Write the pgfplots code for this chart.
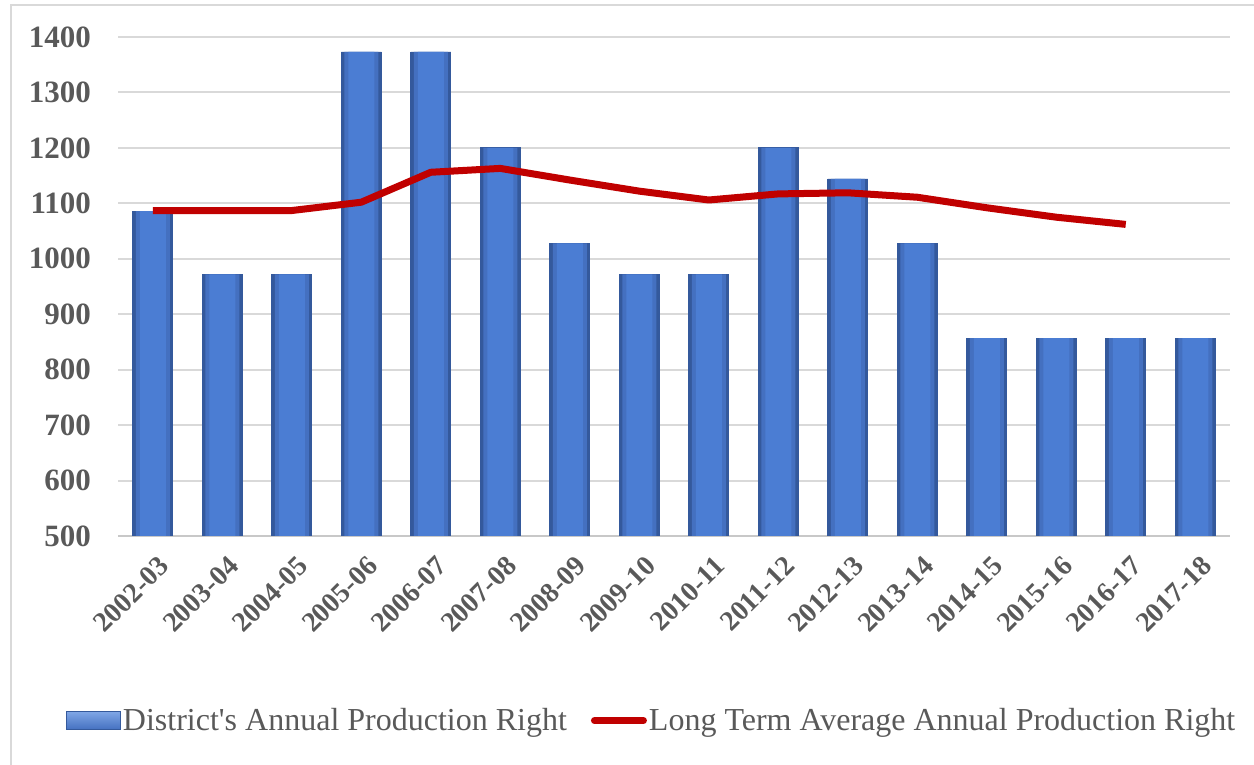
\documentclass[border=0pt]{standalone}
\usepackage{pgfplots}
\pgfplotsset{compat=1.18}
\usepackage{fontspec}
\setmainfont{Liberation Serif}

\definecolor{barface}{HTML}{4B7DD3}
\definecolor{barmid}{HTML}{4470C0}
\definecolor{baredge}{HTML}{34599C}
\definecolor{barlight}{HTML}{7FA6E6}
\definecolor{avgred}{HTML}{C00000}
\definecolor{txtgray}{HTML}{595959}
\definecolor{gridgray}{HTML}{D9D9D9}
\definecolor{basegray}{HTML}{C8C8C8}

\pgfplotstableread{
x  prod  avg
0  1086  1087
1  972   1087
2  972   1087
3  1373  1102
4  1373  1156
5  1200  1163
6  1028  1142
7  972   1122
8  972   1106
9  1200  1117
10 1144  1119
11 1028  1111
12 857   1092
13 857   1075
14 857   1062
15 857   nan
}\datatable

\begin{document}
\begin{tikzpicture}
\path[use as bounding box] (0,0) rectangle (627bp,382.5bp);
% chart frame
\draw[gridgray, line width=1bp] (5.5bp,0bp) -- (5.5bp,380bp) -- (627bp,380bp);
\begin{axis}[
  at={(59bp,114.5bp)}, anchor=south west,
  scale only axis, width=556bp, height=249.5bp,
  xmin=-0.5, xmax=15.5, ymin=500, ymax=1400,
  ytick={500,600,...,1400},
  xtick={0,...,15},
  xticklabels={2002-03,2003-04,2004-05,2005-06,2006-07,2007-08,2008-09,2009-10,2010-11,2011-12,2012-13,2013-14,2014-15,2015-16,2016-17,2017-18},
  axis lines*=left,
  y axis line style={draw=none},
  x axis line style={draw=basegray, line width=1.2bp},
  major tick length=0pt,
  ymajorgrids,
  grid style={draw=gridgray, line width=1bp},
  /pgf/number format/assume math mode=true,
  /pgf/number format/1000 sep={},
  yticklabel style={font=\fontsize{15.5bp}{18bp}\selectfont\bfseries, text=txtgray, xshift=-10bp},
  xticklabel style={font=\fontsize{14bp}{16bp}\selectfont\bfseries, text=txtgray, rotate=45, anchor=east, xshift=-1.5bp, yshift=-13bp},
  legend columns=2,
  legend style={at={(0.48,-0.37)}, anchor=center, draw=none, fill=none,
    font=\fontsize{16bp}{18bp}\selectfont, text=txtgray,
    /tikz/every even column/.append style={column sep=11bp},
    nodes={inner xsep=1bp}},
  legend cell align=left,
]
% bars: three nested layers give the darker rim
\addplot[ybar, bar width=20bp, bar shift=0pt, draw=baredge, line width=0.4bp, fill=baredge,
  legend image code/.code={\draw[draw=baredge, line width=0.4bp, top color=barlight, bottom color=barmid]
    (0bp,-4.5bp) rectangle (27bp,4.5bp);}]
  table[x=x, y=prod] {\datatable};
\addlegendentry{District\textquotesingle s Annual Production Right}
\addplot[ybar, bar width=17bp, bar shift=0pt, draw=none, fill=barmid, forget plot]
  table[x=x, y=prod] {\datatable};
\addplot[ybar, bar width=13bp, bar shift=0pt, draw=none, fill=barface, forget plot]
  table[x=x, y=prod] {\datatable};
\addplot[avgred, line width=3.5bp, line join=round, unbounded coords=discard,
  legend image code/.code={\draw[avgred, line width=3.5bp, line cap=round] (1.5bp,0bp) -- (26bp,0bp);}]
  table[x=x, y=avg] {\datatable};
\addlegendentry{Long Term Average Annual Production Right}
\end{axis}
\end{tikzpicture}
\end{document}
